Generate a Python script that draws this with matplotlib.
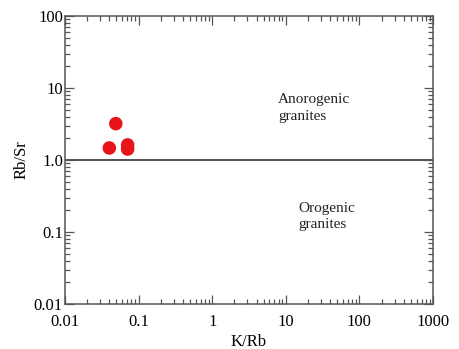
import matplotlib
matplotlib.use("Agg")
import matplotlib.pyplot as plt
from matplotlib.ticker import FixedLocator, LogLocator, NullFormatter

k_rb = [0.040, 0.049, 0.071, 0.071]
rb_sr = [1.47, 3.2, 1.42, 1.62]

x_ticks = [0.01, 0.1, 1, 10, 100, 1000]
x_labels = ["0.01", "0.1", "1", "10", "100", "1000"]
y_ticks = [0.01, 0.1, 1, 10, 100]
y_labels = ["0.01", "0.1", "1.0", "10", "100"]

plt.rcParams["font.family"] = ["Liberation Serif", "DejaVu Serif"]

fig = plt.figure(figsize=(4.59, 3.49), dpi=100)
ax = fig.add_axes([65 / 459, 1 - 304 / 349, 368 / 459, 288 / 349])

ax.set_xscale("log")
ax.set_yscale("log")
ax.set_xlim(0.01, 1000)
ax.set_ylim(0.01, 100)

ax.axhline(1.0, color="#333333", lw=1.2, zorder=1)
ax.scatter(k_rb, rb_sr, s=95, color="#e8141a", edgecolors="none", zorder=3)

ax.text(0.579, 0.68, "Anorogenic\ngranites", transform=ax.transAxes,
        fontsize=11, va="center", ha="left", color="#222222", linespacing=1.35)
ax.text(0.633, 0.303, "Orogenic\ngranites", transform=ax.transAxes,
        fontsize=11, va="center", ha="left", color="#222222", linespacing=1.3)

ax.xaxis.set_major_locator(FixedLocator(x_ticks))
ax.set_xticklabels(x_labels)
ax.yaxis.set_major_locator(FixedLocator(y_ticks))
ax.set_yticklabels(y_labels)
ax.xaxis.set_minor_locator(LogLocator(base=10, subs=range(2, 10), numticks=20))
ax.yaxis.set_minor_locator(LogLocator(base=10, subs=range(2, 10), numticks=20))
ax.xaxis.set_minor_formatter(NullFormatter())
ax.yaxis.set_minor_formatter(NullFormatter())

ax.tick_params(which="both", direction="in", top=True, right=True,
               color="#555555", labelsize=12, width=0.9)
ax.tick_params(which="major", length=6.5)
ax.tick_params(which="minor", length=3.5)
ax.tick_params(axis="x", which="major", pad=7)
ax.tick_params(axis="y", which="major", pad=1.5)
for s in ax.spines.values():
    s.set_color("#555555")
    s.set_linewidth(1.1)

ax.set_xlabel("K/Rb", fontsize=12, labelpad=3)
ax.set_ylabel("Rb/Sr", fontsize=12, labelpad=3)

fig.savefig("out.png", dpi=100)
